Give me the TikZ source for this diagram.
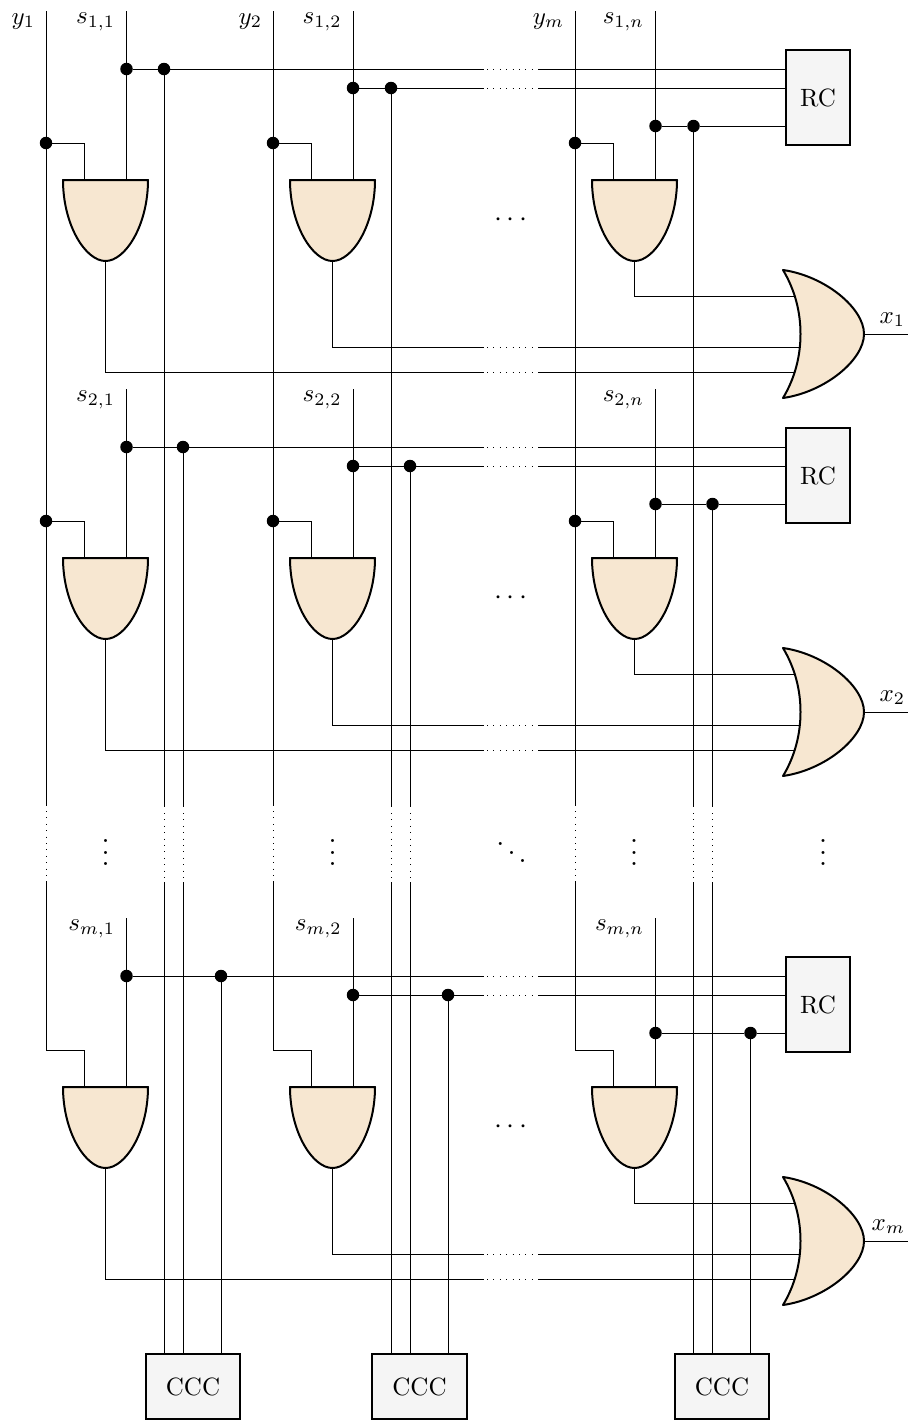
\documentclass[tikz,border=0pt]{standalone}
\definecolor{gatefill}{HTML}{F7E7D1}
\definecolor{boxfill}{HTML}{F5F5F5}
\tikzset{
  wire/.style={line width=0.4pt,black},
  gapwire/.style={line width=0.4pt,black,dash pattern=on 0.4pt off 2.16pt},
  gateshape/.style={line width=0.8pt,black,fill=gatefill,line join=round},
  boxnode/.style={draw=black,line width=0.8pt,fill=boxfill,inner sep=0pt,outer sep=0pt},
  dotnode/.style={circle,fill=black,inner sep=0pt,outer sep=0pt,minimum size=5pt},
  lab/.style={inner sep=0pt,outer sep=0pt,anchor=base east},
  dots/.style={inner sep=0pt,outer sep=0pt,scale=1.15}
}
\begin{document}
\begin{tikzpicture}[x=0.4pt,y=-0.4pt]
\useasboundingbox (0,0) rectangle (911,1420);
% CCC blocks
\foreach \c/\cx in {1/193,2/419.5,3/722}{
  \node[boxnode,minimum width=37.8pt,minimum height=26pt] (ccc\c) at (\cx,1386.5) {CCC};
}
% rows
\foreach \r/\off/\d/\sub in {1/0/0/1,2/378/19/2,3/907/57/m}{
\begin{scope}[yshift=-\off*0.4pt]
  \node[boxnode,minimum width=25.8pt,minimum height=37.8pt] (rc\r) at (818,97.5) {RC};
  \foreach \c/\yx/\sx/\gl/\gm/\gr/\ga/\wy/\oy/\oe/\base/\cl in {
    1/46/126.5/63/105.5/148/84/69/372/794/164/1,
    2/273/353/290/332.5/375/311/88/347/800/391/2,
    3/575/655.5/592/634.5/677/613/126/296/794/693.5/n}{
    \pgfmathsetmacro{\jx}{\base+\d}
    \coordinate (stop\r\c) at (\sx,11+0);
    \coordinate[yshift=0pt] (ina\r\c) at (\ga,180);
    \coordinate (inb\r\c) at (\sx,180);
    \coordinate (gout\r\c) at (\gm,261);
    \coordinate (oend\r\c) at (\oe,\oy);
    \node[dotnode] (sdot\r\c) at (\sx,\wy) {};
    \node[dotnode] (jdot\r\c) at (\jx,\wy) {};
    \ifnum\r<3
      \node[dotnode] (ytap\r\c) at (\yx,143) {};
    \else
      \coordinate (ytap\r\c) at (\yx,143);
    \fi
    \node[lab] (slab\r\c) at (\sx-11.5,23.5) {$s_{\sub,\cl}$};
    \draw[wire] (stop\r\c) -- (sdot\r\c) -- (inb\r\c);
    \draw[wire] (ytap\r\c) -| (ina\r\c);
    \ifnum\c<3
      \coordinate (ga\r\c) at (487,\wy);
      \coordinate (gb\r\c) at (538,\wy);
      \coordinate (gc\r\c) at (484,\oy);
      \coordinate (gd\r\c) at (538,\oy);
      \coordinate (ge\r\c) at (484,\wy);
      \draw[wire] (sdot\r\c) -- (jdot\r\c) -- (ge\r\c);
      \draw[gapwire] (ga\r\c) -- (gb\r\c);
      \draw[wire] (gb\r\c) -- (rc\r.west |- gb\r\c);
      \draw[wire] (gout\r\c) |- (gc\r\c);
      \draw[gapwire] (gc\r\c) ++(3,0) -- (gd\r\c);
      \draw[wire] (gd\r\c) -- (oend\r\c);
    \else
      \draw[wire] (sdot\r\c) -- (jdot\r\c) -- (rc\r.west |- jdot\r\c);
      \draw[wire] (gout\r\c) |- (oend\r\c);
    \fi
    \draw[gateshape] (\gl,180) -- (\gr,180) .. controls (\gr,225) and (\gm+20,261) .. (\gm,261)
      .. controls (\gm-20,261) and (\gl,225) .. (\gl,180) -- cycle;
  }
  \node[dots] (cd\r) at (511,220) {$\cdots$};
  \coordinate (orout\r) at (864,334);
  \coordinate (xend\r) at (908,334);
  \draw[wire] (orout\r) -- (xend\r);
  \draw[gateshape] (783,270) .. controls (825,276) and (864,308) .. (864,334)
    .. controls (864,360) and (825,392) .. (783,398)
    .. controls (795,378) and (800.5,356) .. (800.5,334)
    .. controls (800.5,312) and (795,290) .. (783,270) -- cycle;
  \node[lab] (xlab\r) at (905,323) {$x_{\sub}$};
\end{scope}
}
% y labels
\foreach \c/\yx/\yl in {1/46/1,2/273/2,3/575/m}{
  \node[lab] (ylab\c) at (\yx-11,24) {$y_{\yl}$};
  \coordinate (ytop\c) at (\yx,11);
  \coordinate (ygapa\c) at (\yx,806);
  \coordinate (ygapb\c) at (\yx,811);
  \coordinate (ygapc\c) at (\yx,877);
  \coordinate (ygapd\c) at (\yx,881);
  \draw[wire] (ytop\c) -- (ytap1\c) -- (ytap2\c) -- (ygapa\c);
  \draw[gapwire] (ygapb\c) -- (ygapc\c);
  \draw[wire] (ygapd\c) -- (ytap3\c);
}
% column lines to CCC
\foreach \c/\base in {1/164,2/391,3/693.5}{
  \foreach \r/\d in {1/0,2/19}{
    \pgfmathsetmacro{\jx}{\base+\d}
    \coordinate (cgapa\r\c) at (\jx,807);
    \coordinate (cgapb\r\c) at (\jx,813);
    \coordinate (cgapc\r\c) at (\jx,879);
    \coordinate (cgapd\r\c) at (\jx,882);
    \draw[wire] (jdot\r\c) -- (cgapa\r\c);
    \draw[gapwire] (cgapb\r\c) -- (cgapc\r\c);
    \draw[wire] (cgapd\r\c) -- (ccc\c.north -| cgapd\r\c);
  }
  \draw[wire] (jdot3\c) -- (ccc\c.north -| jdot3\c);
}
% ellipsis dots
\foreach \i/\vx in {1/105.5,2/332.5,3/634,4/823}{
  \node[dots] (vd\i) at (\vx,844) {$\vdots$};
}
\node[dots] (dd) at (511.5,844) {$\ddots$};
\end{tikzpicture}
\end{document}
